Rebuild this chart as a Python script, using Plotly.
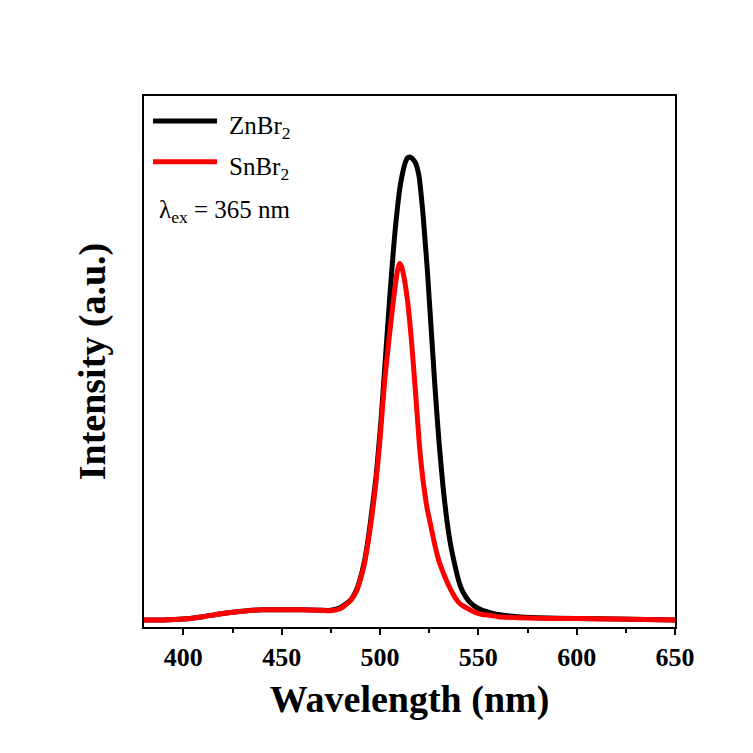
import plotly.graph_objects as go

# Photoluminescence spectra (normalised to the ZnBr2 maximum)
wavelength = [380, 390, 400, 410, 420, 430, 440, 450, 460, 470, 475, 480, 485, 488,
              490, 492, 494, 496, 498, 500, 501, 502, 503, 504, 505, 506, 507, 508,
              509, 510, 511, 512, 513, 514, 515, 516, 517, 518, 519, 520, 521, 522,
              523, 524, 526, 528, 530, 532, 534, 536, 538, 540, 542, 545, 548, 552,
              556, 560, 570, 580, 600, 620, 650]

znbr2 = [0.000, 0.000, 0.002, 0.007, 0.014, 0.019, 0.022, 0.022, 0.022, 0.021, 0.021,
         0.027, 0.043, 0.065, 0.090, 0.125, 0.175, 0.240, 0.310, 0.405, 0.460, 0.520,
         0.580, 0.640, 0.700, 0.755, 0.808, 0.855, 0.895, 0.930, 0.955, 0.975, 0.990,
         0.998, 1.000, 0.998, 0.994, 0.988, 0.975, 0.955, 0.915, 0.870, 0.815, 0.760,
         0.630, 0.500, 0.385, 0.290, 0.215, 0.160, 0.120, 0.085, 0.062, 0.042, 0.030,
         0.021, 0.016, 0.012, 0.007, 0.005, 0.003, 0.002, 0.000]

snbr2 = [0.000, 0.000, 0.002, 0.007, 0.014, 0.019, 0.022, 0.022, 0.022, 0.021, 0.020,
         0.025, 0.042, 0.062, 0.087, 0.120, 0.170, 0.228, 0.300, 0.390, 0.445, 0.497,
         0.543, 0.583, 0.622, 0.660, 0.697, 0.730, 0.757, 0.770, 0.763, 0.745, 0.720,
         0.690, 0.650, 0.603, 0.550, 0.495, 0.438, 0.380, 0.335, 0.298, 0.267, 0.240,
         0.200, 0.160, 0.127, 0.104, 0.083, 0.065, 0.050, 0.038, 0.031, 0.024, 0.017,
         0.012, 0.010, 0.007, 0.005, 0.004, 0.003, 0.002, 0.000]

series_names = ["ZnBr<sub>2</sub>", "SnBr<sub>2</sub>"]
series_colors = ["#000000", "#ff0000"]
x_ticks = [400, 450, 500, 550, 600, 650]
excitation_label = "λ<sub>ex</sub> = 365 nm"

SERIF = "Liberation Serif, Times New Roman, serif"

fig = go.Figure()
for name, vals, col in zip(series_names, [znbr2, snbr2], series_colors):
    fig.add_trace(go.Scatter(x=wavelength, y=vals, mode="lines", name=name,
                             line=dict(color=col, width=5, shape="spline", smoothing=0.5),
                             showlegend=False))

# Hand-built legend so the key lines can be as long as the original ones
legend_y = [0.953, 0.876]
for name, col, ly in zip(series_names, series_colors, legend_y):
    fig.add_shape(type="line", xref="paper", yref="paper", x0=0.017, x1=0.1375,
                  y0=ly, y1=ly, line=dict(color=col, width=5))
    fig.add_annotation(xref="paper", yref="paper", x=0.156, y=ly - 0.012,
                       text=name, showarrow=False, xanchor="left", yanchor="middle",
                       font=dict(family=SERIF, size=25, color="black"))
fig.add_annotation(xref="paper", yref="paper", x=0.024, y=0.782,
                   text=excitation_label, showarrow=False, xanchor="left",
                   yanchor="middle", font=dict(family=SERIF, size=25, color="black"))

fig.update_layout(
    width=753, height=753,
    margin=dict(l=144, r=78, t=96, b=126),
    paper_bgcolor="white", plot_bgcolor="white",
    font=dict(family=SERIF, color="black"),
)
fig.update_xaxes(
    range=[380, 650], tickvals=x_ticks, ticks="outside", ticklen=6, tickwidth=1.5,
    tickcolor="black", showline=True, linewidth=1.5, linecolor="black", mirror=True,
    showgrid=False, zeroline=False,
    minor=dict(tickvals=[425, 475, 525, 575, 625], ticks="outside", ticklen=4,
               tickwidth=1.5, tickcolor="black", showgrid=False),
    tickfont=dict(family=SERIF, size=26, color="black", weight="bold"),
    title=dict(text="Wavelength (nm)", standoff=14,
               font=dict(family=SERIF, size=38, color="black", weight="bold")),
)
fig.update_yaxes(
    range=[-0.0151, 1.1317], showticklabels=False, ticks="",
    showline=True, linewidth=1.5, linecolor="black", mirror=True,
    showgrid=False, zeroline=False,
    title=dict(text="Intensity (a.u.)", standoff=25,
               font=dict(family=SERIF, size=38, color="black", weight="bold")),
)

fig.write_html("out.html")
